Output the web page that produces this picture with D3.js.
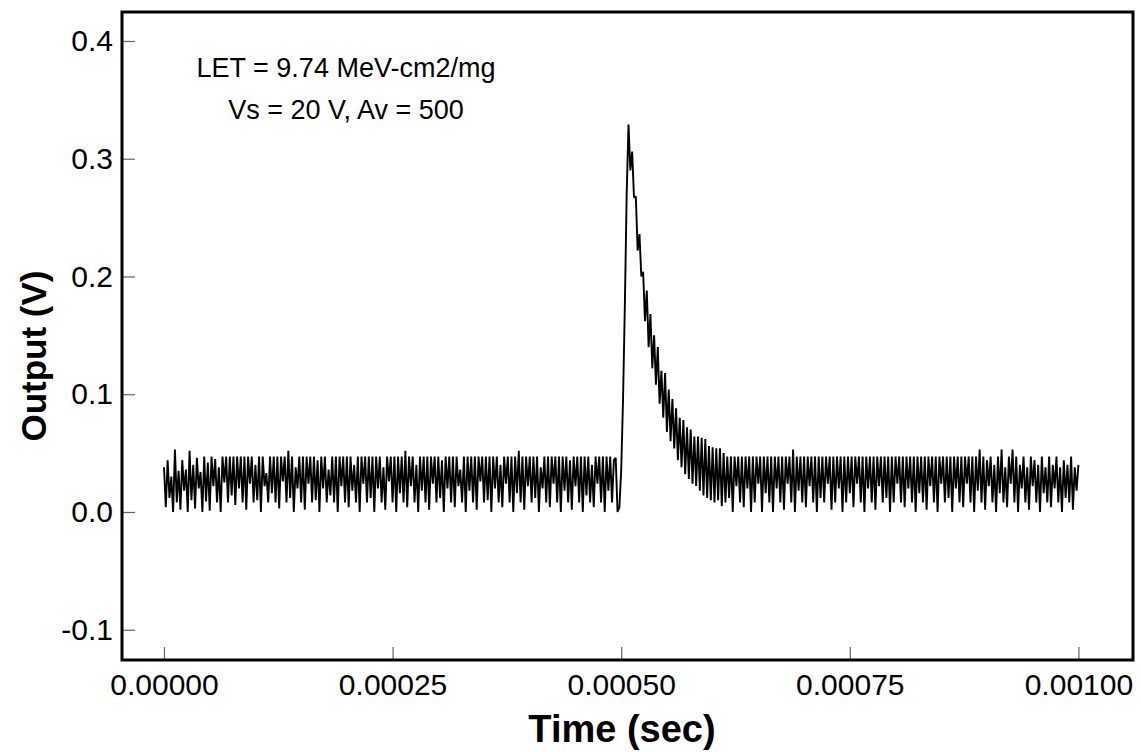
<!DOCTYPE html>
<meta charset="utf-8">
<style>

body {
  margin: 0;
  background: #fff;
}

.frame {
  fill: none;
  stroke: #000;
  stroke-width: 3px;
}

.trace {
  fill: none;
  stroke: #000;
  stroke-width: 1.9px;
  stroke-linejoin: miter;
  stroke-miterlimit: 2;
}

.axis path {
  display: none;
}

.axis line {
  stroke: #666;
  stroke-width: 1.2px;
}

.axis text {
  font-family: Arial, "Liberation Sans", sans-serif;
  font-size: 30px;
  fill: #000;
}

.title {
  font-family: Arial, "Liberation Sans", sans-serif;
  font-weight: bold;
  font-size: 38px;
  fill: #000;
}

.note {
  font-family: Arial, "Liberation Sans", sans-serif;
  font-size: 27px;
  fill: #000;
}

</style>
<body><svg width="1141" height="752"></svg></body>
<script src="https://d3js.org/d3.v7.min.js"></script>
<script>

// scope trace, output in mV, one sample every 2 us starting at t = 0
var t0 = 0,
    dt = 2e-6;

// before the strike
var preTrigger = [
  38,4,44,12,30,0,53,8,35,2,44,18,36,0,52,10,40,3,46,20,
  34,0,47,9,42,1,47,22,45,8,38,0,47,25,47,8,47,14,47,6,
  47,20,47,8,47,2,47,24,47,8,40,10,47,0,47,22,33,8,47,16,
  47,8,47,3,47,26,47,8,52,12,47,0,38,20,47,8,47,2,47,24,
  47,8,47,10,44,0,47,20,47,8,36,14,47,8,47,0,47,22,47,8,
  47,4,47,18,40,8,47,0,47,24,47,8,47,12,47,0,47,20,47,8,
  38,2,47,26,47,8,47,0,47,16,47,8,52,4,47,22,47,8,40,0,
  47,18,47,8,47,2,47,24,47,8,47,12,44,0,47,20,47,8,47,4,
  47,22,36,8,47,0,47,18,47,8,47,2,47,26,47,8,47,10,47,0,
  47,20,47,8,40,4,47,24,47,8,47,0,47,16,52,8,47,2,47,22,
  47,8,47,12,47,0,38,20,47,8,47,4,47,24,47,8,47,0,47,18,
  47,8,44,2,47,22,47,8,47,0,47,14,47,8,40,4,47,24,47,8,
  47,0,47,18,47,8,44,46,0
];

// the transient
var pulse = [
  4,35,95,175,270,329,290,306,267,268,222,236,200,204,162,188,140,168,122,150,
  108,140,92,120,80,118,68,104,60,96,54,88,44,80,38,78,32,72,28,70,
  24,64,22,64,18,63,14,62,12,56,10,55,8,54,10,54,5,50
];

// back to the noise floor
var postTrigger = [
  8,47,12,47,0,47,22,47,8,47,4,47,20,47,0,47,8,47,24,47,
  0,47,16,47,8,47,0,47,20,47,8,47,2,47,24,47,8,53,0,47,
  18,47,8,47,4,47,22,47,8,47,0,47,12,47,8,47,24,47,2,47,
  8,47,20,47,0,47,8,47,16,47,4,47,24,47,8,47,0,47,20,47,
  8,47,2,47,22,47,8,47,12,47,0,47,8,47,24,47,8,47,4,47,
  20,47,8,47,0,47,16,47,8,47,2,47,22,47,8,47,0,47,24,47,
  8,47,12,47,0,47,20,47,8,47,4,47,24,47,8,47,0,47,18,53,
  8,47,2,44,22,47,8,40,0,47,16,53,8,38,4,47,24,53,8,47,
  0,40,20,47,8,38,2,47,22,44,8,40,0,47,16,38,8,47,4,40,
  20,47,8,38,0,44,12,40,8,47,2,38,18,40
];

var xTicks = [0, 0.00025, 0.0005, 0.00075, 0.001],
    yTicks = [-0.1, 0, 0.1, 0.2, 0.3, 0.4];

var notes = ["LET = 9.74 MeV-cm2/mg", "Vs = 20 V, Av = 500"];

var svg = d3.select("svg");

// plot frame edges
var x0 = 122, x1 = 1133, y0 = 12, y1 = 660;

var x = d3.scaleLinear()
    .domain([-4.59e-5, 0.0010597])
    .range([x0, x1]);

var y = d3.scaleLinear()
    .domain([-0.1257, 0.4246])
    .range([y1, y0]);

var samples = preTrigger.concat(pulse, postTrigger).map(function(v, i) {
  return [t0 + i * dt, v / 1000];
});

var line = d3.line()
    .x(function(d) { return x(d[0]); })
    .y(function(d) { return y(d[1]); });

svg.append("path")
    .datum(samples)
    .attr("class", "trace")
    .attr("d", line);

// ticks point inward
svg.append("g")
    .attr("class", "axis")
    .attr("transform", "translate(0," + y1 + ")")
    .call(d3.axisBottom(x)
        .tickValues(xTicks)
        .tickSize(-13)
        .tickPadding(14)
        .tickFormat(function(d) { return d.toFixed(5); }));

svg.append("g")
    .attr("class", "axis")
    .attr("transform", "translate(" + x0 + ",0)")
    .call(d3.axisLeft(y)
        .tickValues(yTicks)
        .tickSize(-13)
        .tickPadding(9)
        .tickFormat(function(d) { return d.toFixed(1); }));

svg.append("rect")
    .attr("class", "frame")
    .attr("x", x0)
    .attr("y", y0)
    .attr("width", x1 - x0)
    .attr("height", y1 - y0);

svg.selectAll(".note")
    .data(notes)
    .enter().append("text")
    .attr("class", "note")
    .attr("x", 346)
    .attr("y", function(d, i) { return 77 + i * 42; })
    .attr("text-anchor", "middle")
    .text(function(d) { return d; });

svg.append("text")
    .attr("class", "title")
    .attr("x", 622)
    .attr("y", 742)
    .attr("text-anchor", "middle")
    .text("Time (sec)");

svg.append("text")
    .attr("class", "title")
    .attr("transform", "translate(46,356) rotate(-90)")
    .attr("text-anchor", "middle")
    .style("font-size", "35px")
    .text("Output (V)");

</script>
